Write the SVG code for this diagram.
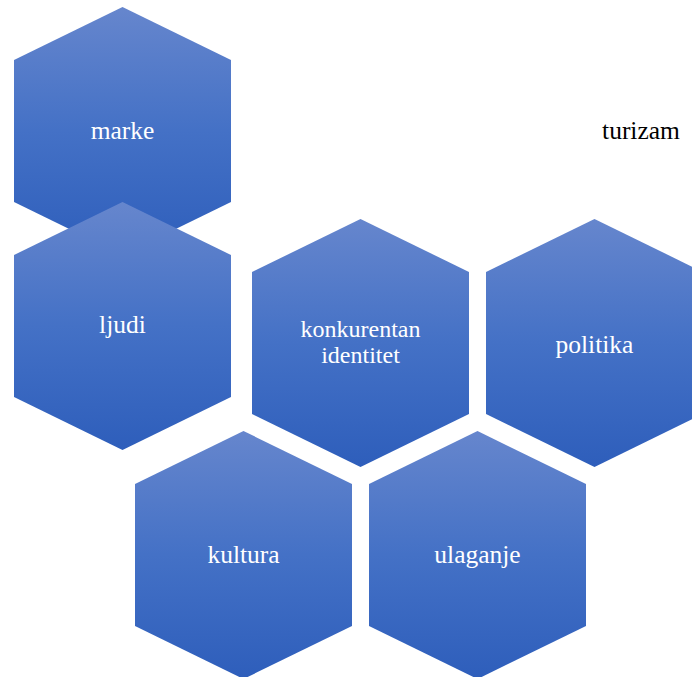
<svg xmlns="http://www.w3.org/2000/svg" width="692" height="677" viewBox="0 0 692 677">
<defs>
<linearGradient id="g" x1="0" y1="0" x2="0" y2="1">
<stop offset="0" stop-color="#6686cd"/>
<stop offset="0.5" stop-color="#4471c6"/>
<stop offset="1" stop-color="#2e5ebb"/>
</linearGradient>
<polygon id="hex" points="108.5,0 217,53 217,195 108.5,248 0,195 0,53"/>
</defs>
<style>
.h{fill:url(#g);}
text{font-family:'Liberation Serif','DejaVu Serif',serif;text-anchor:middle;}
.t{font-size:25.5px;fill:#ffffff;}
.s{font-size:24px;fill:#ffffff;}
.k{font-size:25.5px;fill:#000000;}
</style>
<rect width="692" height="677" fill="#ffffff"/>
<g id="connectors"/>
<g id="node-marke">
<use href="#hex" class="h" x="14" y="7"/>
<text class="t" x="122.5" y="139" font-family="Liberation Serif, serif">marke</text>
</g>
<g id="node-ljudi">
<use href="#hex" class="h" x="14" y="202"/>
<text class="t" x="122.5" y="333" font-family="Liberation Serif, serif">ljudi</text>
</g>
<g id="node-konkurentan">
<use href="#hex" class="h" x="252" y="219"/>
<text class="s" x="360.5" y="337" font-family="Liberation Serif, serif">konkurentan</text>
<text class="s" x="360.5" y="363" font-family="Liberation Serif, serif">identitet</text>
</g>
<g id="node-politika">
<use href="#hex" class="h" x="486" y="219"/>
<text class="t" x="594.5" y="353" font-family="Liberation Serif, serif">politika</text>
</g>
<g id="node-kultura">
<use href="#hex" class="h" x="135" y="431"/>
<text class="t" x="243.5" y="563" font-family="Liberation Serif, serif">kultura</text>
</g>
<g id="node-ulaganje">
<use href="#hex" class="h" x="369" y="431"/>
<text class="t" x="477.5" y="563" font-family="Liberation Serif, serif">ulaganje</text>
</g>
<g id="node-turizam">
<text class="k" x="641" y="139" font-family="Liberation Serif, serif">turizam</text>
</g>
</svg>
